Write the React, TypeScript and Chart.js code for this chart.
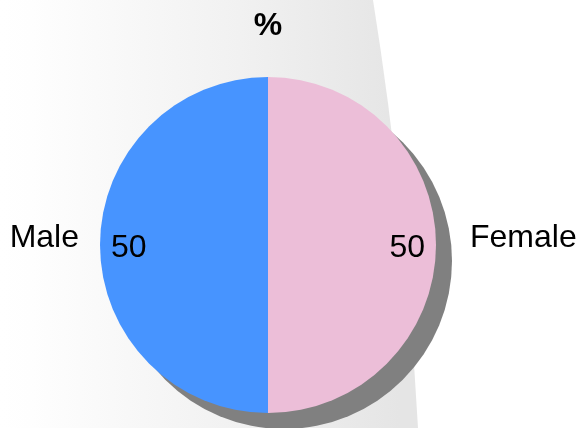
import React, { useEffect, useRef } from 'react';
import { Chart, registerables } from 'chart.js';

Chart.register(...registerables);

// ---- data ----
const categories: string[] = ['Female', 'Male'];
const values: number[] = [50, 50];
const sliceColors: string[] = ['#ECBED8', '#4794FF'];
const titleText = '%';

const FONT = '"Liberation Sans", Arial, Helvetica, sans-serif';
const W = 581;
const H = 428;

const backgroundPlugin = {
  id: 'bgPanel',
  beforeDraw(chart: any) {
    const { ctx, width, height } = chart;
    ctx.save();
    ctx.fillStyle = '#ffffff';
    ctx.fillRect(0, 0, width, height);
    const g = ctx.createLinearGradient(0, 0, 400, 0);
    g.addColorStop(0, '#ffffff');
    g.addColorStop(0.08, '#fefefe');
    g.addColorStop(0.6, '#f1f1f1');
    g.addColorStop(1, '#e5e5e5');
    ctx.fillStyle = g;
    ctx.beginPath();
    ctx.moveTo(0, 0);
    ctx.lineTo(373, 0);
    ctx.quadraticCurveTo(405, 200, 418, height);
    ctx.lineTo(0, height);
    ctx.closePath();
    ctx.fill();
    ctx.restore();
  },
};

const shadowPlugin = {
  id: 'pieShadow',
  beforeDatasetsDraw(chart: any) {
    const meta = chart.getDatasetMeta(0);
    const arc = meta.data[0];
    if (!arc) return;
    const { x, y, outerRadius } = arc.getProps(['x', 'y', 'outerRadius'], true);
    const { ctx } = chart;
    ctx.save();
    ctx.fillStyle = '#808080';
    ctx.beginPath();
    ctx.arc(x + 16, y + 16, outerRadius, 0, Math.PI * 2);
    ctx.fill();
    ctx.restore();
  },
};

const labelPlugin = {
  id: 'sliceLabels',
  afterDatasetsDraw(chart: any) {
    const meta = chart.getDatasetMeta(0);
    const { ctx } = chart;
    ctx.save();
    ctx.font = `32px ${FONT}`;
    ctx.fillStyle = '#000000';
    ctx.textBaseline = 'alphabetic';
    meta.data.forEach((arc: any, i: number) => {
      const { x, y, startAngle, endAngle, outerRadius } = arc.getProps(
        ['x', 'y', 'startAngle', 'endAngle', 'outerRadius'],
        true
      );
      const mid = (startAngle + endAngle) / 2;
      const c = Math.cos(mid);
      const s = Math.sin(mid);
      const right = c >= 0;
      // value inside, near the edge
      const vx = x + c * (outerRadius - 11);
      const vy = y + s * (outerRadius - 11) + 12;
      ctx.textAlign = right ? 'right' : 'left';
      ctx.fillText(String(values[i]), vx, vy);
      // category outside
      const off = right ? 34 : 21;
      const nx = x + c * (outerRadius + off);
      const ny = y + s * (outerRadius + off) + 2;
      ctx.textAlign = right ? 'left' : 'right';
      ctx.fillText(categories[i], nx, ny);
    });
    ctx.restore();
  },
};

export default function App() {
  const ref = useRef<HTMLCanvasElement | null>(null);

  useEffect(() => {
    if (!ref.current) return;
    const chart = new Chart(ref.current, {
      type: 'pie',
      data: {
        labels: categories,
        datasets: [
          {
            data: values,
            backgroundColor: sliceColors,
            borderWidth: 0,
          },
        ],
      },
      options: {
        animation: false,
        responsive: false,
        devicePixelRatio: 1,
        layout: { padding: { left: 100, right: 145, top: 0, bottom: 15 } },
        plugins: {
          legend: { display: false },
          tooltip: { enabled: false },
          title: {
            display: true,
            text: titleText,
            color: '#000000',
            font: { family: FONT, size: 32, weight: 'bold' },
            padding: { top: 6.6, bottom: 32 },
          },
        },
      },
      plugins: [backgroundPlugin, shadowPlugin, labelPlugin],
    });
    return () => chart.destroy();
  }, []);

  return (
    <div style={{ position: 'absolute', left: 0, top: 0, width: W, height: H }}>
      <canvas ref={ref} width={W} height={H} style={{ display: 'block', width: W, height: H }} />
    </div>
  );
}
